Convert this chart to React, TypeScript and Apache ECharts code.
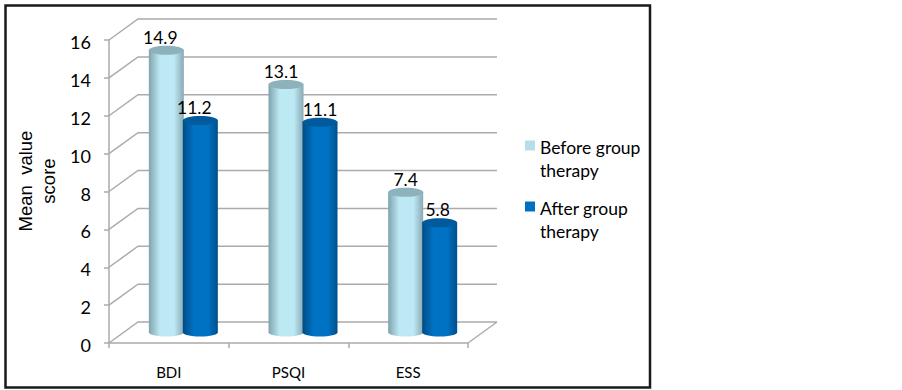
import React, { useEffect, useRef } from "react";
import * as echarts from "echarts";

const categories = ["BDI", "PSQI", "ESS"];
const beforeValues = [14.9, 13.1, 7.4];
const afterValues = [11.2, 11.1, 5.8];
const yTicks = [0, 2, 4, 6, 8, 10, 12, 14, 16];
const beforeName = "Before group\ntherapy";
const afterName = "After group\ntherapy";
const yTitle = "Mean  value\nscore";

const DEPTH_X = 29;
const DEPTH_Y = -21;
const BAR_W = 35;
const GREY = "#ababab";

const grad = (edgeL: string, mid: string, edgeR: string) =>
  new echarts.graphic.LinearGradient(0, 0, 1, 0, [
    { offset: 0, color: edgeL },
    { offset: 0.32, color: mid },
    { offset: 0.72, color: mid },
    { offset: 1, color: edgeR },
  ]);

const cylinder = (
  offset: number,
  body: any,
  top: string,
  labelNudge: number[],
) => (params: any, api: any) => {
  const idx = api.value(0);
  const val = api.value(1);
  const p = api.coord([idx, val]);
  const b = api.coord([idx, 0]);
  const cx = p[0] + DEPTH_X / 2 + offset;
  const topY = p[1] + DEPTH_Y / 2;
  const baseY = b[1] + DEPTH_Y / 2;
  return {
    type: "group",
    children: [
      { type: "ellipse", shape: { cx, cy: baseY, rx: BAR_W / 2, ry: 4 }, style: { fill: body } },
      { type: "rect", shape: { x: cx - BAR_W / 2, y: topY, width: BAR_W, height: baseY - topY }, style: { fill: body } },
      { type: "ellipse", shape: { cx, cy: topY, rx: BAR_W / 2, ry: 4.5 }, style: { fill: top } },
      {
        type: "text",
        x: cx + labelNudge[idx],
        y: topY - 13,
        style: {
          text: String(val),
          fill: "#000",
          font: "17.5px Lato",
          align: "center",
          verticalAlign: "middle",
        },
      },
    ],
  };
};

const wallRender = (params: any, api: any) => {
  const v = api.value(0);
  const p = api.coord([0, v]);
  const left = params.coordSys.x;
  const right = left + params.coordSys.width;
  const backY = p[1] + DEPTH_Y;
  const lineStyle = { stroke: GREY, lineWidth: 1.5, fill: "none" };
  const children: any[] = [
    {
      type: "polyline",
      shape: { points: [[left, p[1]], [left + DEPTH_X, backY], [right + DEPTH_X, backY]] },
      style: lineStyle,
    },
  ];
  if (v === 0) {
    children.push({
      type: "line",
      shape: { x1: right, y1: p[1], x2: right + DEPTH_X, y2: backY },
      style: lineStyle,
    });
  }
  return { type: "group", children };
};

export default function App() {
  const ref = useRef<HTMLDivElement>(null);
  useEffect(() => {
    const chart = echarts.init(ref.current!, null, { renderer: "svg" });
    chart.setOption({
      animation: false,
      backgroundColor: "#fff",
      grid: { left: 109, top: 40, width: 359, height: 303, containLabel: false },
      xAxis: {
        type: "category",
        data: categories,
        axisLine: { lineStyle: { color: GREY, width: 1.5 } },
        axisTick: { show: true, length: 5, alignWithLabel: false, lineStyle: { color: GREY, width: 1.5 } },
        axisLabel: { color: "#000", fontFamily: "Lato", fontSize: 15, margin: 21 },
      },
      yAxis: {
        type: "value",
        min: 0,
        max: 16,
        interval: 2,
        splitLine: { show: false },
        axisLine: { show: true, lineStyle: { color: GREY, width: 1.5 } },
        axisTick: { show: true, length: 5, lineStyle: { color: GREY, width: 1.5 } },
        axisLabel: {
          margin: 18,
          formatter: "{a|{value}}",
          rich: { a: { color: "#000", fontFamily: "Lato", fontSize: 18, padding: [4, 0, 0, 0] } },
        },
      },
      legend: {
        orient: "vertical",
        left: 520,
        top: 131,
        selectedMode: false,
        data: [beforeName, afterName],
        icon: "path://M0,0H10V10H0Z M0,37L0,37",
        itemWidth: 10,
        itemHeight: 37,
        itemGap: 15,
        textStyle: { color: "#000", fontFamily: "Lato", fontSize: 17.5, lineHeight: 23 },
      },
      graphic: [
        {
          type: "rect",
          z: -1,
          shape: { x: 5.5, y: 5.5, width: 644.5, height: 382 },
          style: { fill: "none", stroke: "#1a1a1a", lineWidth: 2.5 },
        },
        {
          type: "text",
          x: 37,
          y: 181,
          rotation: Math.PI / 2,
          style: {
            text: yTitle,
            fill: "#000",
            font: "18.5px 'Liberation Sans'",
            align: "center",
            verticalAlign: "middle",
            lineHeight: 23,
          },
        },
      ],
      series: [
        {
          type: "custom",
          name: "walls",
          z: 1,
          silent: true,
          clip: false,
          coordinateSystem: "cartesian2d",
          encode: { y: 0 },
          data: yTicks.map((t) => [t]),
          renderItem: wallRender,
        },
        {
          type: "custom",
          name: beforeName,
          z: 3,
          clip: false,
          itemStyle: { color: "#B7DDE8" },
          encode: { x: 0, y: 1 },
          data: beforeValues.map((v, i) => [i, v]),
          renderItem: cylinder(-17, grad("#7FA3AD", "#BDE9F5", "#88A9B3"), "#8DB2BC", [-6, -5, 0]),
        },
        {
          type: "custom",
          name: afterName,
          z: 4,
          clip: false,
          itemStyle: { color: "#0070C0" },
          encode: { x: 0, y: 1 },
          data: afterValues.map((v, i) => [i, v]),
          renderItem: cylinder(17, grad("#004B85", "#0072C4", "#004F8C"), "#005A9C", [-6, 0, -2]),
        },
      ],
    });
    return () => chart.dispose();
  }, []);
  return (
    <div
      ref={ref}
      style={{ position: "absolute", left: 0, top: 0, width: 902, height: 390 }}
    />
  );
}
